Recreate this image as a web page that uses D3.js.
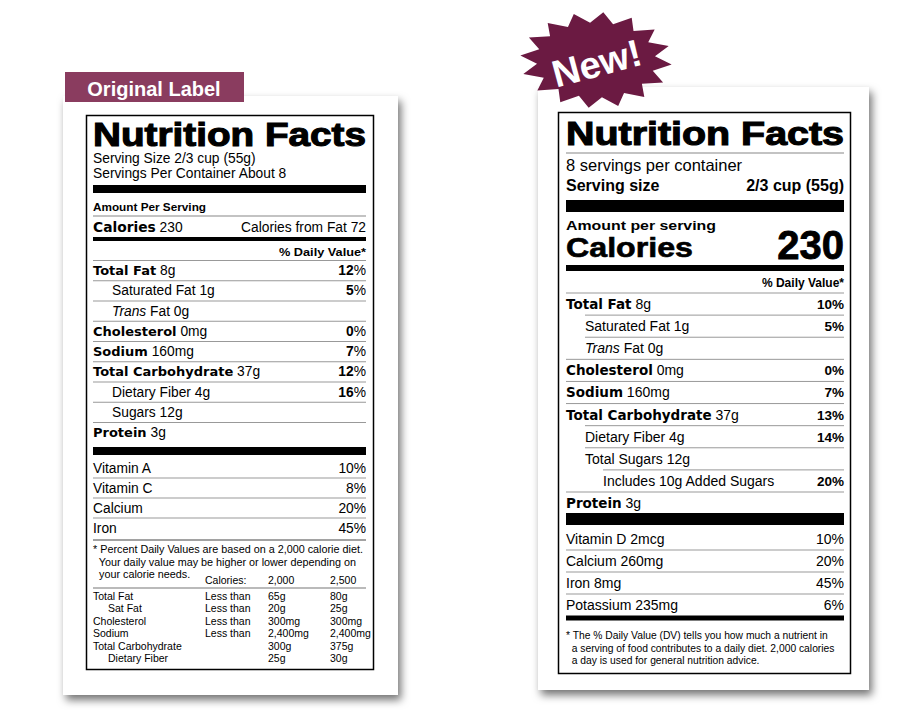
<!DOCTYPE html>
<html><head><meta charset="utf-8">
<script src="https://cdn.jsdelivr.net/npm/d3@7"></script>
<style>body{margin:0;background:#fff}svg{display:block}text{font-family:"Liberation Sans",Arial,sans-serif;fill:#000}</style>
</head><body><svg id="c" width="900" height="714"></svg>
<script>
// ---- data ----
const oldRows = [
  {name:"Total Fat", amt:"8g", dv:"12", bold:true, indent:0},
  {name:"Saturated Fat", amt:"1g", dv:"5", bold:false, indent:1},
  {name:"Trans", amt:"Fat 0g", dv:"", bold:false, indent:1, italic:true},
  {name:"Cholesterol", amt:"0mg", dv:"0", bold:true, indent:0},
  {name:"Sodium", amt:"160mg", dv:"7", bold:true, indent:0},
  {name:"Total Carbohydrate", amt:"37g", dv:"12", bold:true, indent:0},
  {name:"Dietary Fiber", amt:"4g", dv:"16", bold:false, indent:1},
  {name:"Sugars", amt:"12g", dv:"", bold:false, indent:1},
  {name:"Protein", amt:"3g", dv:"", bold:true, indent:0}
];
const oldVitamins = [["Vitamin A","10%"],["Vitamin C","8%"],["Calcium","20%"],["Iron","45%"]];
const oldTable = [
  ["Total Fat","Less than","65g","80g",0],
  ["Sat Fat","Less than","20g","25g",1],
  ["Cholesterol","Less than","300mg","300mg",0],
  ["Sodium","Less than","2,400mg","2,400mg",0],
  ["Total Carbohydrate","","300g","375g",0],
  ["Dietary Fiber","","25g","30g",1]
];
const newRows = [
  {name:"Total Fat", amt:"8g", dv:"10%", bold:true, indent:0},
  {name:"Saturated Fat", amt:"1g", dv:"5%", bold:false, indent:1},
  {name:"Trans", amt:"Fat 0g", dv:"", bold:false, indent:1, italic:true},
  {name:"Cholesterol", amt:"0mg", dv:"0%", bold:true, indent:0},
  {name:"Sodium", amt:"160mg", dv:"7%", bold:true, indent:0},
  {name:"Total Carbohydrate", amt:"37g", dv:"13%", bold:true, indent:0},
  {name:"Dietary Fiber", amt:"4g", dv:"14%", bold:false, indent:1},
  {name:"Total Sugars", amt:"12g", dv:"", bold:false, indent:1},
  {name:"Includes 10g Added Sugars", amt:"", dv:"20%", bold:false, indent:2},
  {name:"Protein", amt:"3g", dv:"", bold:true, indent:0}
];
const newVitamins = [["Vitamin D 2mcg","10%"],["Calcium 260mg","20%"],["Iron 8mg","45%"],["Potassium 235mg","6%"]];
const oldFoot = ["* Percent Daily Values are based on a 2,000 calorie diet.","  Your daily value may be higher or lower depending on","  your calorie needs."];
const newFoot = ["* The % Daily Value (DV) tells you how much a nutrient in","  a serving of food contributes to a daily diet. 2,000 calories","  a day is used for general nutrition advice."];

const svg = d3.select("#c");
const defs = svg.append("defs");
const f = defs.append("filter").attr("id","sh").attr("x","-10%").attr("y","-10%").attr("width","130%").attr("height","130%");
f.append("feDropShadow").attr("dx",3).attr("dy",5).attr("stdDeviation",4).attr("flood-color","#000").attr("flood-opacity",0.55);

function txt(g,x,y,s,size,opt={}){
  return g.append("text").attr("x",x).attr("y",y).attr("font-size",size)
    .attr("font-weight",opt.bold?"bold":"normal").attr("font-style",opt.italic?"italic":"normal")
    .attr("text-anchor",opt.anchor||"start").attr("xml:space","preserve").text(s);
}
function rule(g,x1,x2,y,w,c="#000"){g.append("rect").attr("x",x1).attr("y",y-w/2).attr("width",x2-x1).attr("height",w).attr("fill",c);}
function title(g,L,R,y){
  txt(g,L,y,"Nutrition Facts",33,{bold:true}).attr("textLength",R-L).attr("lengthAdjust","spacingAndGlyphs")
    .attr("font-family","DejaVu Sans").attr("stroke","#000").attr("stroke-width",1.1);
}

// ================= OLD LABEL =================
{
const g = svg.append("g");
g.append("rect").attr("x",63).attr("y",96).attr("width",335).attr("height",599).attr("fill","#fff").attr("filter","url(#sh)");
g.append("rect").attr("x",65).attr("y",72).attr("width",179).attr("height",30).attr("fill","#8a3c5f");
txt(g,154,96,"Original Label",20,{bold:true,anchor:"middle"}).style("fill","#fff").attr("font-family","Open Sans, sans-serif");
g.append("rect").attr("x",86.5).attr("y",115.5).attr("width",287).attr("height",554).attr("fill","none").attr("stroke","#000").attr("stroke-width",1.5);
const L=93,R=366,I=112;
title(g,L,R,146);
txt(g,L,163,"Serving Size 2/3 cup (55g)",13.8);
txt(g,L,178,"Servings Per Container About 8",13.8);
rule(g,L,R,189,8);
txt(g,L,211,"Amount Per Serving",10,{bold:true}).attr("font-family","DejaVu Sans").attr("textLength",113).attr("lengthAdjust","spacingAndGlyphs");
rule(g,L,R,216,1,"#888");
const c1=txt(g,L,232,"",13.8); c1.append("tspan").attr("font-weight","bold").attr("font-family","DejaVu Sans").text("Calories"); c1.append("tspan").text(" 230");
txt(g,R,232,"Calories from Fat 72",13.8,{anchor:"end"});
rule(g,L,R,239,4);
txt(g,R,256,"% Daily Value*",10.5,{bold:true,anchor:"end"}).attr("font-family","DejaVu Sans").attr("textLength",87).attr("lengthAdjust","spacingAndGlyphs");
const y = d3.scaleLinear().domain([0,8]).range([275,437]);
oldRows.forEach((r,i)=>{
  rule(g,L,R,y(i)-14.5,1,"#999");
  const t=txt(g,L+(r.indent?I-L:0),y(i),"",13.8);
  if(r.italic){t.append("tspan").attr("font-style","italic").text(r.name);}
  else t.append("tspan").attr("font-weight",r.bold?"bold":"normal").attr("font-family",r.bold?"DejaVu Sans":null).attr("font-size",r.bold?13:13.8).text(r.name);
  t.append("tspan").text(" "+r.amt);
  if(r.dv){const d=txt(g,R,y(i),"",13.8,{anchor:"end"});d.append("tspan").attr("font-weight","bold").text(r.dv);d.append("tspan").text("%");}
});
rule(g,L,R,451,8);
const yv=d3.scaleLinear().domain([0,3]).range([473,533]);
oldVitamins.forEach((v,i)=>{
  if(i>0) rule(g,L,R,yv(i)-15,1,"#999");
  txt(g,L,yv(i),v[0],13.8); txt(g,R,yv(i),v[1],13.8,{anchor:"end"});
});
rule(g,L,R,540,1.2,"#666");
oldFoot.forEach((s,i)=>txt(g,L,553+i*12.6,s,10.8));
const cx=[205,268,330];
txt(g,cx[0],584,"Calories:",10.5);txt(g,cx[1],584,"2,000",10.5);txt(g,cx[2],584,"2,500",10.5);
rule(g,L,R,588,1,"#777");
const yt=d3.scaleLinear().domain([0,5]).range([600,662]);
oldTable.forEach((r,i)=>{
  txt(g,L+(r[4]?15:0),yt(i),r[0],10.5);txt(g,cx[0],yt(i),r[1],10.5);txt(g,cx[1],yt(i),r[2],10.5);txt(g,cx[2],yt(i),r[3],10.5);
});
}

// ================= NEW LABEL =================
{
const g = svg.append("g");
g.append("rect").attr("x",538).attr("y",87).attr("width",331).attr("height",603).attr("fill","#fff").attr("filter","url(#sh)");
const n=16, cxs=596, cys=60, pts=[];
for(let i=0;i<n*2;i++){const a=i*Math.PI/n-0.1, r=i%2?1:0.78; pts.push([cxs+Math.cos(a)*76*r, cys+Math.sin(a)*48*r]);}
g.append("path").attr("d",d3.line().curve(d3.curveLinearClosed)(pts)).attr("fill","#6b1a42");
txt(g,0,0,"New!",38,{bold:true,anchor:"middle"}).style("fill","#fff").attr("font-family","DejaVu Sans")
  .attr("transform",`translate(${cxs+4},${cys+16}) rotate(-15)`);
g.append("rect").attr("x",558.5).attr("y",112.5).attr("width",292).attr("height",561).attr("fill","none").attr("stroke","#000").attr("stroke-width",1.5);
const L=566,R=844;
title(g,L,R,145);
rule(g,L,R,153,1,"#888");
txt(g,L,171,"8 servings per container",16.5);
txt(g,L,191,"Serving size",16,{bold:true}).attr("font-family","DejaVu Sans");
txt(g,R,191,"2/3 cup (55g)",16,{bold:true,anchor:"end"}).attr("font-family","DejaVu Sans");
rule(g,L,R,206,12);
txt(g,L,230,"Amount per serving",13,{bold:true}).attr("font-family","DejaVu Sans").attr("textLength",150).attr("lengthAdjust","spacingAndGlyphs");
txt(g,L,257,"Calories",27,{bold:true}).attr("font-family","DejaVu Sans").attr("textLength",127).attr("lengthAdjust","spacingAndGlyphs").attr("stroke","#000").attr("stroke-width",0.6);
txt(g,R,259,"230",40,{bold:true,anchor:"end"}).attr("font-family","DejaVu Sans").attr("stroke","#000").attr("stroke-width",0.8);
rule(g,L,R,268,6);
txt(g,R,287,"% Daily Value*",12,{bold:true,anchor:"end"}).attr("font-family","DejaVu Sans");
const ind=[0,19,37];
const y=d3.scaleLinear().domain([0,9]).range([309,508]);
newRows.forEach((r,i)=>{
  rule(g,L+(r.indent?ind[r.indent]:0),R,y(i)-16,1,"#999");
  const t=txt(g,L+ind[r.indent],y(i),"",14);
  if(r.italic) t.append("tspan").attr("font-style","italic").text(r.name);
  else t.append("tspan").attr("font-weight",r.bold?"bold":"normal").attr("font-family",r.bold?"DejaVu Sans":null).attr("font-size",r.bold?13.5:14).text(r.name);
  if(r.amt) t.append("tspan").text(" "+r.amt);
  if(r.dv) txt(g,R,y(i),r.dv,14,{bold:true,anchor:"end"}).attr("font-family","DejaVu Sans").attr("font-size",13.5);
});
rule(g,L,R,519,12);
const yv=d3.scaleLinear().domain([0,3]).range([544,610]);
newVitamins.forEach((v,i)=>{
  if(i>0) rule(g,L,R,yv(i)-16,1,"#999");
  txt(g,L,yv(i),v[0],14); txt(g,R,yv(i),v[1],14,{anchor:"end"});
});
rule(g,L,R,618,5);
newFoot.forEach((s,i)=>txt(g,L,639+i*12.6,s,10.3));
}
</script></body></html>
